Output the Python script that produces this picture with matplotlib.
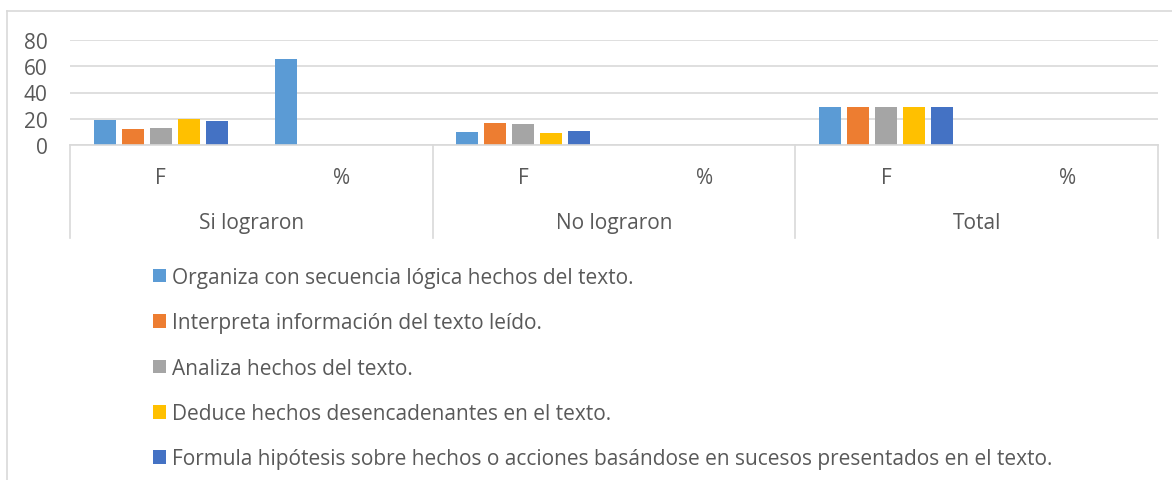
import matplotlib
matplotlib.use("Agg")
import matplotlib.pyplot as plt
from matplotlib.lines import Line2D
import numpy as np

groups = ["Si lograron", "No lograron", "Total"]
subcats = ["F", "%"]
series_names = [
    "Organiza con secuencia lógica hechos del texto.",
    "Interpreta información del texto leído.",
    "Analiza hechos del texto.",
    "Deduce hechos desencadenantes en el texto.",
    "Formula hipótesis sobre hechos o acciones basándose en sucesos presentados en el texto.",
]
# values per category: Si F, Si %, No F, No %, Total F, Total %
organiza = [19, 65.5, 10, np.nan, 29, np.nan]
interpreta = [12, np.nan, 17, np.nan, 29, np.nan]
analiza = [13, np.nan, 16, np.nan, 29, np.nan]
deduce = [20, np.nan, 9, np.nan, 29, np.nan]
formula = [18, np.nan, 11, np.nan, 29, np.nan]
series_values = [organiza, interpreta, analiza, deduce, formula]
yticks = [0, 20, 40, 60, 80]

colors = ["#5B9BD5", "#ED7D31", "#A5A5A5", "#FFC000", "#4472C4"]
txt = "#595959"
grid = "#D9D9D9"
FONT = ["Open Sans", "DejaVu Sans"]
plt.rcParams["font.family"] = FONT
FS = 15

W, H = 1172, 481
fig = plt.figure(figsize=(W / 100, H / 100), dpi=100)
L, R, T, B = 70, 1158, 41, 146
ax = fig.add_axes([L / W, 1 - B / H, (R - L) / W, (B - T) / H])

ncat = len(groups) * len(subcats)
x = np.arange(ncat)
slot = 28 / 181.5
bw = 22 / 181.5
nser = len(series_values)
handles = []
for i, vals in enumerate(series_values):
    off = (i - (nser - 1) / 2) * slot
    b = ax.bar(x + off, vals, width=bw, color=colors[i], label=series_names[i], zorder=3)
    handles.append(b)

ax.set_xlim(-0.5, ncat - 0.5)
ax.set_ylim(0, 80)
ax.set_yticks(yticks)
ax.set_yticklabels([str(v) for v in yticks], fontsize=FS, color=txt)
ax.tick_params(axis="y", length=0, pad=16)
ax.tick_params(axis="x", length=0)
ax.set_xticks([])
ax.grid(axis="y", color=grid, linewidth=1.2, zorder=0)
for s in ["top", "right", "left"]:
    ax.spines[s].set_visible(False)
ax.spines["bottom"].set_color(grid)
ax.spines["bottom"].set_linewidth(1.2)
ax.spines["bottom"].set_zorder(4)

# multi-level category axis
trans = ax.get_xaxis_transform()
sep_bottom = -(239 - B) / (B - T)
for k in range(len(groups) + 1):
    xs = k * len(subcats) - 0.5
    ax.add_line(Line2D([xs, xs], [0, sep_bottom], transform=trans, color=grid,
                       linewidth=1.2, clip_on=False))
y_sub = -(179 - B) / (B - T)
y_grp = -(223 - B) / (B - T)
for g, gname in enumerate(groups):
    for s, sname in enumerate(subcats):
        ax.text(g * len(subcats) + s, y_sub, sname, transform=trans, ha="center",
                va="center", fontsize=FS, color=txt)
    ax.text(g * len(subcats) + (len(subcats) - 1) / 2, y_grp, gname, transform=trans,
            ha="center", va="center", fontsize=FS, color=txt)

# chart border (cropped)
fig.add_artist(Line2D([7 / W, 7 / W], [0, 1 - 12 / H], color=grid, linewidth=1.2,
                      transform=fig.transFigure))
fig.add_artist(Line2D([7 / W, 1], [1 - 12 / H, 1 - 12 / H], color=grid, linewidth=1.2,
                      transform=fig.transFigure))

leg = fig.legend(handles=handles, loc="upper left",
                 bbox_to_anchor=(153 / W, 1 - 268 / H), frameon=False,
                 fontsize=FS, labelcolor=txt, handlelength=0.62, handleheight=0.62,
                 handletextpad=0.3, labelspacing=1.17, borderpad=0, borderaxespad=0)

fig.savefig("out.png", dpi=100)
